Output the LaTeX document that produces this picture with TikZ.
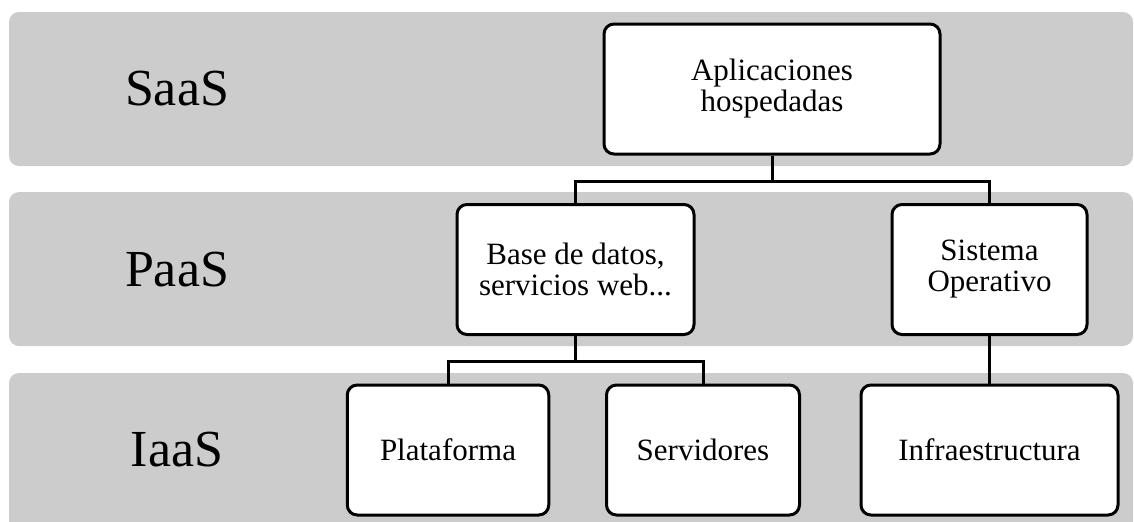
\documentclass[tikz,border=0pt]{standalone}
\usepackage{fontspec}
\setmainfont{Liberation Serif}
\usetikzlibrary{trees}

\tikzset{
    band/.style={fill=gray!40, rounded corners=5pt},
    bandlabel/.style={font=\fontsize{26}{26}\selectfont},
    box/.style={draw, line width=1.5pt, fill=white, rounded corners=5pt,
        minimum height=65pt, inner sep=0pt, align=center,
        font=\fontsize{15.5}{15.5}\selectfont},
}

\begin{document}
\begin{tikzpicture}
[
    x=0.5pt, y=-0.5pt,
    level 1/.style={grow via three points={one child at (0pt,-90.25pt) and
        two children at (-98.25pt,-90.25pt) and (108.75pt,-90.25pt)}},
    level 2/.style={grow via three points={one child at (0pt,-90.25pt) and
        two children at (-63.75pt,-90.25pt) and (63.75pt,-90.25pt)}},
    edge from parent/.style={draw, line width=1.5pt},
    edge from parent path={(\tikzparentnode.south) -- ++(0pt,-12.75pt) -| (\tikzchildnode.north)},
]
\useasboundingbox (0,0) rectangle (1134,521);
% layers
\fill[band] (9,12) rectangle (1133,166);
\fill[band] (9,192) rectangle (1133,346);
\fill[band] (9,373) rectangle (1133,540);
\node[bandlabel] (saas) at (177,89) {SaaS};
\node[bandlabel] (paas) at (177,269.5) {PaaS};
\node[bandlabel] (iaas) at (177,450) {IaaS};
% services
\node[box, minimum width=168pt] (apps) at (772,89) {Aplicaciones\\hospedadas}
    child {node[box, minimum width=118.5pt] (bd) {Base de datos,\\servicios web...}
    child {node[box, minimum width=100.75pt] (plat) {Plataforma}
}    child {node[box, minimum width=96.5pt] (serv) {Servidores}
}}    child {node[box, minimum width=97.5pt] (so) {Sistema\\Operativo}
    child {node[box, minimum width=128.5pt] (infra) {Infraestructura}
}};
\end{tikzpicture}
\end{document}
